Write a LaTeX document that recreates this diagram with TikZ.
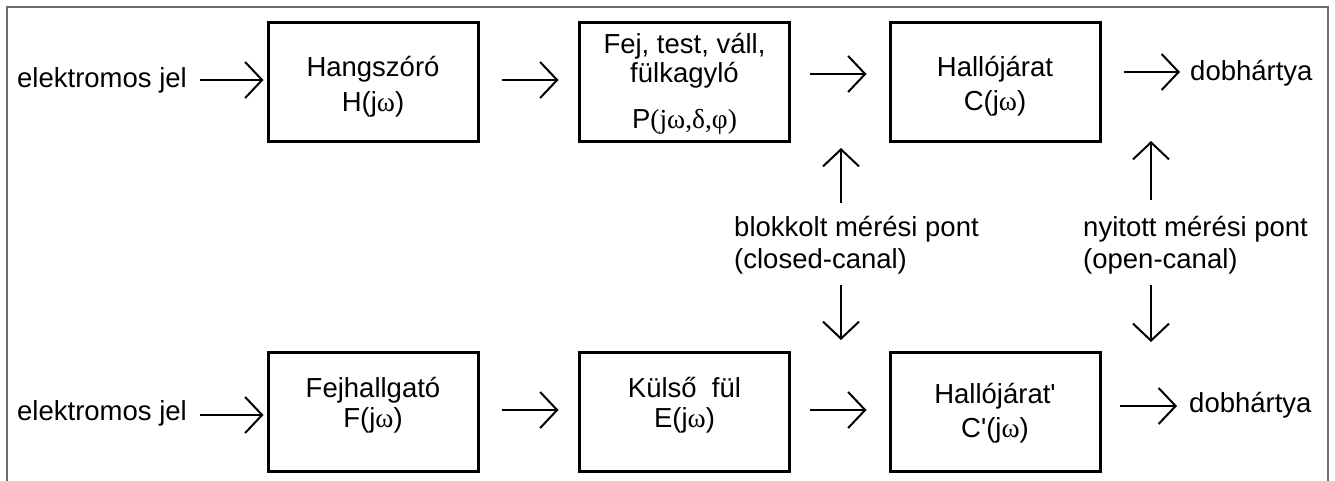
\documentclass[tikz,border=0pt]{standalone}
\usepackage{fontspec}
\setmainfont{Liberation Sans}
\newfontfamily\grk{Liberation Serif}
\newfontfamily\plainsans{Liberation Sans}[Ligatures=TeXOff]
\usetikzlibrary{arrows.meta,calc}
\definecolor{framec}{RGB}{110,110,110}
\tikzset{
  box/.style={draw, line width=3pt, minimum width=210pt, minimum height=119pt, inner sep=0pt},
  arr/.style={line width=2pt, -{Straight Barb[length=17pt,width=36pt]}},
  txt/.style={font=\fontsize{27.5}{32}\selectfont, inner sep=0pt, anchor=base},
  lbl/.style={font=\fontsize{27.5}{32}\selectfont, inner sep=0pt, align=left, anchor=north west}
}
\newcommand{\jw}{(j{\grk ω})}
\begin{document}
\begin{tikzpicture}[x=1pt,y=-1pt]
\useasboundingbox (0,0) rectangle (1335,480);
\draw[framec, line width=1.5pt] (7,485) -- (7,7) -- (1328,7) -- (1328,485);

% boxes
\node[box] (H) at (373,81.5) {};
\node[box] (P) at (684.5,81.5) {};
\node[box] (C) at (995,81.5) {};
\node[box] (F) at (373,411.5) {};
\node[box] (E) at (684.5,411.5) {};
\node[box] (Cp) at (995,411.5) {};

% box texts
\node[txt] (Ht1) at (373,76) {Hangszóró};
\node[txt] (Ht2) at (373,111) {H\jw};
\node[txt] (Pt1) at (684.5,53) {Fej, test, váll,};
\node[txt] (Pt2) at (684.5,82) {fülkagyló};
\node[txt] (Pt3) at (684.5,128) {P{\grk(jω,δ,φ)}};
\node[txt] (Ct1) at (995,76) {Hallójárat};
\node[txt] (Ct2) at (995,110) {C\jw};
\node[txt] (Ft1) at (373,397) {Fejhallgató};
\node[txt] (Ft2) at (373,427) {F\jw};
\node[txt] (Et1) at (684.5,397) {Külső\ \ fül};
\node[txt] (Et2) at (684.5,427) {E\jw};
\node[txt] (Cpt1) at (995,403) {Hallójárat{\plainsans'}};
\node[txt] (Cpt2) at (995,437) {C{\plainsans'}\jw};

% outer labels
\node[txt, anchor=base west] (in1) at (17,87) {elektromos jel};
\node[txt, anchor=base west] (in2) at (17,420) {elektromos jel};
\node[txt, anchor=base west] (dob1) at (1190,80) {dobhártya};
\node[txt, anchor=base west] (dob2) at (1189,412) {dobhártya};
\node[lbl] (blk) at (734,216) {blokkolt mérési pont\\(closed-canal)};
\node[lbl] (nyi) at (1083,216) {nyitott mérési pont\\(open-canal)};

\coordinate (mtop) at (841,148);
\coordinate (mbot) at (841,340);
\coordinate (otop) at (1151,141);
\coordinate (obot) at (1151,342);

% top row arrows
\draw[arr] (in1.base east) ++(13,-7) -- ([xshift=-3pt,yshift=1.5pt]H.west);
\draw[arr] ([xshift=22pt,yshift=1.5pt]H.east) -- ([xshift=-19.5pt,yshift=1.5pt]P.west);
\draw[arr] ([xshift=18.5pt,yshift=7.5pt]P.east) -- ([xshift=-22pt,yshift=7.5pt]C.west);
\draw[arr] ([xshift=22pt,yshift=9.5pt]C.east) -- ([xshift=-10pt,yshift=8pt]dob1.base west);

% bottom row arrows
\draw[arr] (in2.base east) ++(13,-5) -- ([xshift=-3pt,yshift=-3.5pt]F.west);
\draw[arr] ([xshift=22pt,yshift=1.5pt]F.east) -- ([xshift=-19.5pt,yshift=1.5pt]E.west);
\draw[arr] ([xshift=18.5pt,yshift=1.5pt]E.east) -- ([xshift=-22pt,yshift=1.5pt]Cp.west);
\draw[arr] ([xshift=18pt,yshift=5.5pt]Cp.east) -- ([xshift=-12pt,yshift=6pt]dob2.base west);

% measurement point arrows
\draw[arr] ($(blk.north -| mtop)+(0,-13)$) -- (mtop);
\draw[arr] ($(blk.south -| mbot)+(0,11)$) -- (mbot);
\draw[arr] ($(nyi.north -| otop)+(0,-16)$) -- (otop);
\draw[arr] ($(nyi.south -| obot)+(0,11)$) -- (obot);
\end{tikzpicture}
\end{document}
